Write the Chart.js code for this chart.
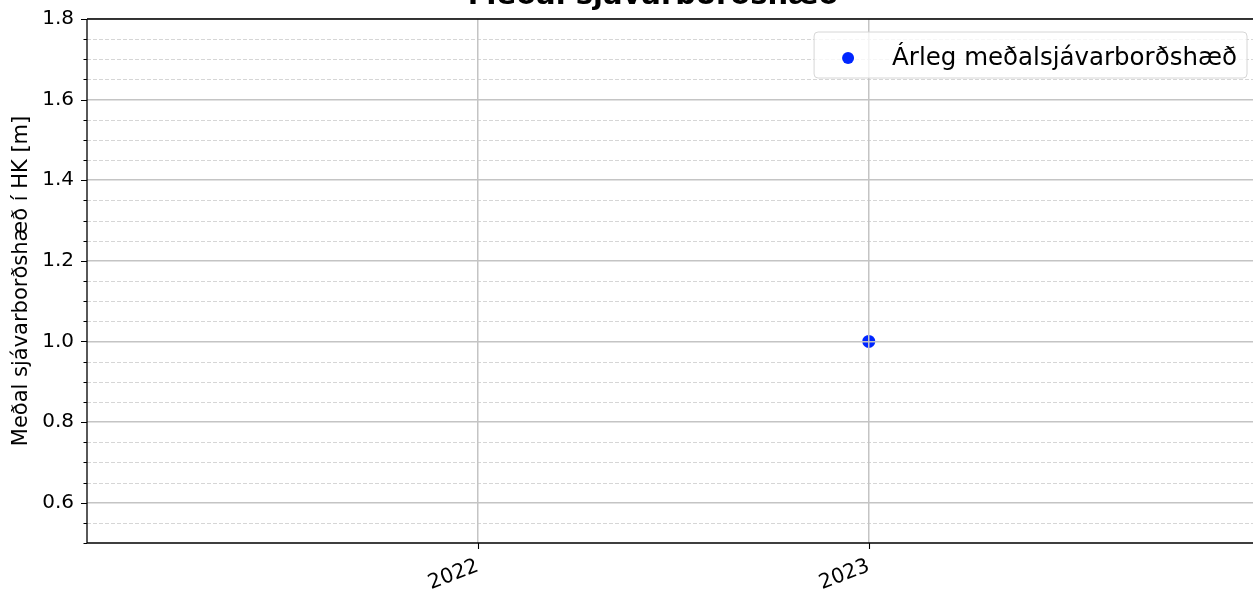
<!DOCTYPE html>
<html>
<head>
<meta charset="utf-8">
<script src="https://cdn.jsdelivr.net/npm/chart.js@4.4.1/dist/chart.umd.min.js"></script>
<style>
  html, body { margin: 0; padding: 0; background: #fff; overflow: hidden; }
</style>
</head>
<body>
<canvas id="chart" width="1253" height="589"></canvas>
<script>
// data
const years = [2023];
const meanLevel = [1.0];
const xTickYears = [2022, 2023];
const seriesLabel = 'Árleg meðalsjávarborðshæð';
const chartTitle = 'Meðal sjávarborðshæð';
const yAxisTitle = 'Meðal sjávarborðshæð í HK [m]';

const FONT = "'DejaVu Sans', sans-serif";

function isMajor(v) {
    return Math.round(v * 100) % 20 === 0;
}

const decorPlugin = {
    id: 'decor',
    beforeDatasetsDraw(chart) {
        // minor dashed grid lines
        const ctx = chart.ctx;
        const area = chart.chartArea;
        const y = chart.scales.y;
        ctx.save();
        ctx.strokeStyle = '#cccccc';
        ctx.lineWidth = 0.8;
        ctx.setLineDash([4, 2]);
        y.ticks.forEach(t => {
            if (isMajor(t.value) || t.value <= y.min + 1e-6) return;
            const py = Math.round(y.getPixelForValue(t.value)) + 0.5;
            ctx.beginPath();
            ctx.moveTo(area.left, py);
            ctx.lineTo(area.right, py);
            ctx.stroke();
        });
        ctx.restore();
    },
    afterDraw(chart) {
        const ctx = chart.ctx;
        const area = chart.chartArea;
        const x = chart.scales.x;
        const y = chart.scales.y;
        ctx.save();

        // spines
        ctx.strokeStyle = '#000';
        ctx.lineWidth = 1.3;
        ctx.setLineDash([]);
        ctx.beginPath();
        ctx.moveTo(area.left, area.top);
        ctx.lineTo(area.right, area.top);
        ctx.moveTo(area.left, area.top);
        ctx.lineTo(area.left, area.bottom);
        ctx.lineTo(area.right, area.bottom);
        ctx.stroke();

        // tick marks
        ctx.lineWidth = 1.1;
        ctx.beginPath();
        y.ticks.forEach(t => {
            const py = Math.round(y.getPixelForValue(t.value)) + 0.5;
            const len = isMajor(t.value) ? 6 : 3.5;
            ctx.moveTo(area.left - len, py);
            ctx.lineTo(area.left, py);
        });
        x.ticks.forEach(t => {
            const px = Math.round(x.getPixelForValue(t.value)) + 0.5;
            ctx.moveTo(px, area.bottom);
            ctx.lineTo(px, area.bottom + 6);
        });
        ctx.stroke();

        // title (partly above the canvas, as in the reference)
        ctx.fillStyle = '#000';
        ctx.font = 'bold 29px ' + FONT;
        ctx.textAlign = 'center';
        ctx.textBaseline = 'alphabetic';
        ctx.fillText(chartTitle, 653, 4);

        // legend box
        const ds = chart.data.datasets[0];
        ctx.font = '24.5px ' + FONT;
        const tw = ctx.measureText(ds.label).width;
        const boxRight = area.right - 6;
        const boxTop = area.top + 13;
        const boxH = 46;
        const textX = boxRight - 10 - tw;
        const boxLeft = textX - 78;
        ctx.beginPath();
        ctx.roundRect(boxLeft, boxTop, boxRight - boxLeft, boxH, 4);
        ctx.fillStyle = 'rgba(255,255,255,0.8)';
        ctx.fill();
        ctx.strokeStyle = '#d6d6d6';
        ctx.lineWidth = 1;
        ctx.stroke();
        ctx.beginPath();
        ctx.arc(boxLeft + 34, boxTop + boxH / 2 + 3, 6, 0, Math.PI * 2);
        ctx.fillStyle = ds.backgroundColor;
        ctx.fill();
        ctx.fillStyle = '#000';
        ctx.textAlign = 'left';
        ctx.textBaseline = 'middle';
        ctx.fillText(ds.label, textX, boxTop + boxH / 2 + 4);

        ctx.restore();
    }
};

new Chart(document.getElementById('chart'), {
    type: 'scatter',
    data: {
        datasets: [{
            label: seriesLabel,
            data: years.map((yr, i) => ({ x: yr, y: meanLevel[i] })),
            backgroundColor: '#0026ff',
            borderWidth: 0,
            pointRadius: 6.5,
            pointHoverRadius: 6.5
        }]
    },
    options: {
        responsive: false,
        animation: false,
        events: [],
        layout: { autoPadding: false, padding: { top: 19, left: 0, right: 0, bottom: 0 } },
        plugins: {
            legend: { display: false },
            title: { display: false },
            tooltip: { enabled: false }
        },
        scales: {
            x: {
                type: 'linear',
                min: 2021,
                max: 2023.983,
                afterBuildTicks: scale => {
                    scale.ticks = xTickYears.map(v => ({ value: v }));
                },
                afterFit: scale => {
                    scale.height = 46;
                    scale.paddingLeft = 0;
                    scale.paddingRight = 0;
                },
                ticks: {
                    color: '#000',
                    font: { family: FONT, size: 20.5 },
                    minRotation: 21,
                    maxRotation: 21,
                    padding: 5,
                    callback: value => String(value)
                },
                grid: {
                    color: '#c4c4c4',
                    lineWidth: 1.5,
                    z: 1,
                    tickLength: 6,
                    tickColor: 'rgba(0,0,0,0)'
                },
                border: { display: false }
            },
            y: {
                min: 0.5,
                max: 1.8,
                afterBuildTicks: scale => {
                    const ticks = [];
                    for (let i = 10; i <= 36; i++) ticks.push({ value: +(i * 0.05).toFixed(2) });
                    scale.ticks = ticks;
                },
                afterFit: scale => {
                    scale.width = 87;
                    scale.paddingTop = 0;
                    scale.paddingBottom = 0;
                },
                ticks: {
                    color: '#000',
                    font: { family: FONT, size: 20 },
                    padding: 7,
                    autoSkip: false,
                    callback: value => isMajor(value) ? value.toFixed(1) : ''
                },
                grid: {
                    color: ctx => (ctx.tick && isMajor(ctx.tick.value) && ctx.tick.value > 0.55) ? '#c4c4c4' : 'rgba(0,0,0,0)',
                    lineWidth: 1.5,
                    z: 1,
                    tickLength: 6,
                    tickColor: 'rgba(0,0,0,0)'
                },
                border: { display: false },
                title: {
                    display: true,
                    text: yAxisTitle,
                    color: '#000',
                    font: { family: FONT, size: 21 },
                    padding: { top: 9, bottom: 4 }
                }
            }
        }
    },
    plugins: [decorPlugin]
});
</script>
</body>
</html>
